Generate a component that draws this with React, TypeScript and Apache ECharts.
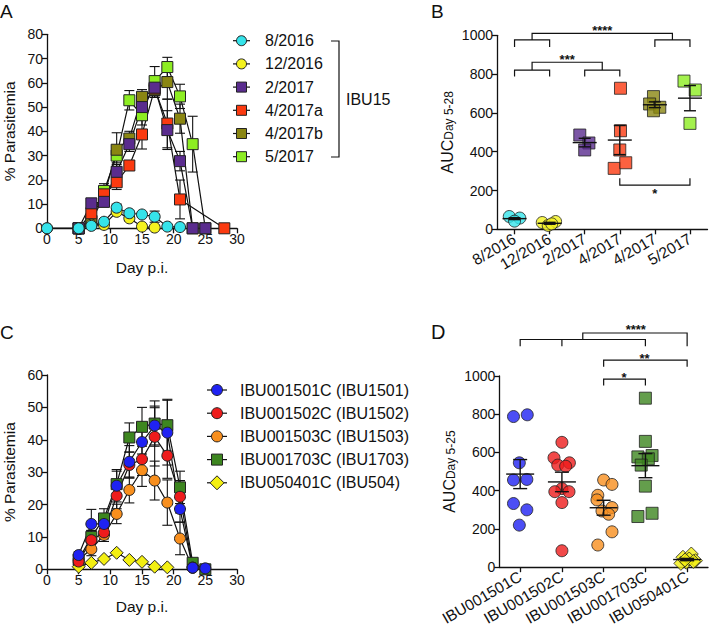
import React, { useEffect, useRef } from "react";
import * as echarts from "echarts";

const FONT = "'Liberation Sans', Arial, Helvetica, sans-serif";
const INK = "#111111";

// ---------- Panel A: % parasitemia, IBU15 isolates ----------
const aNames = ["8/2016", "12/2016", "2/2017", "4/2017a", "4/2017b", "5/2017"];
const aColors = ["#35e3ea", "#f4f21e", "#5a2c8e", "#fb3a10", "#8a8612", "#8ded22"];
const aSymbols = ["circle", "circle", "rect", "rect", "rect", "rect"];
const a1Days = [0, 5, 7, 9, 11, 13, 15, 17, 19, 21];
const a1Vals = [0, 0, 1.0, 2.7, 8.5, 6.2, 5.7, 4.8, 0.7, 0.5];
const a1Sem = [0, 0, 0.5, 0.8, 1.5, 1.2, 1.0, 2.3, 0.2, 0.2];
const a2Days = [0, 5, 7, 9, 11, 13, 15, 17];
const a2Vals = [0, 0, 1.5, 1.4, 6.8, 4.1, 0.7, 0.3];
const a2Sem = [0, 0, 0.5, 0.5, 1.0, 1.0, 0.3, 0.2];
const a3Days = [5, 7, 9, 11, 13, 15, 17, 19, 21, 23, 25];
const a3Vals = [0, 10.3, 10.9, 23.3, 34.7, 50, 58, 40.5, 27.7, 0, 0];
const a3Sem = [0, 1.5, 2, 3, 3, 4, 4, 8, 4, 0, 0];
const a4Days = [5, 7, 9, 11, 13, 15, 17, 19, 21, 28];
const a4Vals = [0, 6.2, 14, 19, 25.9, 38.7, 57.6, 43.2, 11.9, 0];
const a4Sem = [0, 1.5, 2, 3, 2, 6, 2, 10, 8, 0];
const a5Days = [5, 7, 9, 11, 13, 15, 17, 19, 21, 23];
const a5Vals = [0, 3, 13, 32.4, 37, 54.2, 57, 60.3, 45.2, 0];
const a5Sem = [0, 1, 2, 7, 3, 3, 3, 7, 6, 0];
const a6Days = [5, 7, 9, 11, 13, 15, 17, 19, 21, 23, 25];
const a6Vals = [0, 3, 15.4, 30, 52.8, 46.6, 60.7, 66.5, 54.4, 34.7, 0];
const a6Sem = [0, 1, 3, 3, 4, 4, 6, 4, 5, 11.5, 0];
const aDays = [a1Days, a2Days, a3Days, a4Days, a5Days, a6Days];
const aVals = [a1Vals, a2Vals, a3Vals, a4Vals, a5Vals, a6Vals];
const aSems = [a1Sem, a2Sem, a3Sem, a4Sem, a5Sem, a6Sem];

// ---------- Panel B: AUC day 5-28 ----------
const bCats = ["8/2016", "12/2016", "2/2017", "4/2017", "4/2017", "5/2017"];
const bVals = [
  [66, 58, 42],
  [35, 20, 40, 28],
  [486, 445, 409],
  [727, 508, 409, 314, 343],
  [684, 646, 629, 611],
  [764, 718, 546],
];
const bOffsets = [
  [-0.15, 0.15, 0.0],
  [-0.21, -0.04, 0.17, 0.06],
  [-0.14, 0.12, 0.0],
  [0.02, 0.02, 0.0, -0.16, 0.17],
  [-0.04, -0.15, 0.14, -0.04],
  [-0.17, 0.15, 0.0],
];
const bMean = [55, 31, 447, 460, 642, 676];
const bSem = [5, 5, 22, 75, 15, 65];
const bBrackets = [
  [0, 1, 976, 940, 940],
  [4, 5, 976, 940, 940],
  [0.5, 4.5, 1010, 976, 976],
  [0, 1, 821, 787, 787],
  [2, 3, 821, 787, 787],
  [0.5, 2.5, 861, 821, 821],
  [3, 5, 228, 263, 263],
];
const bStars = ["****", "***", "*"];
const bStarPos = [
  [2.5, 1024],
  [1.5, 873],
  [4, 184],
];

// ---------- Panel C: % parasitemia, clones ----------
const cNames = [
  "IBU001501C (IBU1501)",
  "IBU001502C (IBU1502)",
  "IBU001503C (IBU1503)",
  "IBU001703C (IBU1703)",
  "IBU050401C (IBU504)",
];
const cColors = ["#1f22f2", "#ee1c1c", "#f88f1e", "#3d861f", "#f3ef12"];
const cSymbols = ["circle", "circle", "circle", "rect", "diamond"];
const c1Days = [5, 7, 9, 11, 13, 15, 17, 19, 21, 23, 25];
const c1Vals = [4.4, 14.0, 14.0, 25.8, 33.2, 39.3, 44.4, 42.2, 18.6, 0.5, 0.3];
const c1Sem = [1, 4.5, 3, 5, 5, 6, 6, 10, 4, 0, 0];
const c2Days = [5, 7, 9, 11, 13, 15, 17, 19, 21, 23];
const c2Vals = [2.4, 9.0, 11.4, 22.7, 32.2, 34.0, 40.9, 35.1, 22.4, 0.5];
const c2Sem = [1, 3, 2, 4, 4, 5, 9, 7, 5, 0];
const c3Days = [5, 7, 9, 11, 13, 15, 17, 19, 21, 23];
const c3Vals = [3, 6.2, 10.6, 17.1, 24.5, 30.6, 27.4, 20.6, 9.5, 0.5];
const c3Sem = [1, 2, 2, 3, 4, 5, 6, 7, 5, 0];
const c4Days = [5, 7, 9, 11, 13, 15, 17, 19, 21, 23, 25];
const c4Vals = [3, 10, 15.7, 26.3, 40.7, 44.0, 45, 44.5, 25.3, 2, 0];
const c4Sem = [1, 2, 3, 4, 4.5, 6, 7, 8, 5, 1, 0];
const c5Days = [5, 7, 9, 11, 13, 15, 17, 19];
const c5Vals = [0.8, 2.0, 3.2, 5.1, 2.9, 2.3, 0.8, 0.6];
const c5Sem = [0, 0, 0, 0, 0, 0, 0, 0];
const cDays = [c1Days, c2Days, c3Days, c4Days, c5Days];
const cVals = [c1Vals, c2Vals, c3Vals, c4Vals, c5Vals];
const cSems = [c1Sem, c2Sem, c3Sem, c4Sem, c5Sem];

// ---------- Panel D: AUC day 5-25 ----------
const dCats = ["IBU001501C", "IBU001502C", "IBU001503C", "IBU001703C", "IBU050401C"];
const dVals = [
  [788, 797, 546, 456, 459, 333, 300, 220],
  [653, 572, 546, 534, 528, 411, 395, 395, 338, 86],
  [456, 433, 376, 352, 294, 312, 277, 185, 116],
  [884, 658, 577, 584, 567, 534, 424, 265, 282],
  [52, 69, 26, 20, 34, 43, 30, 38],
];
const dOffsets = [
  [-0.16, 0.17, -0.02, -0.16, 0.16, -0.16, 0.16, -0.02],
  [0, -0.19, 0.18, -0.1, 0.09, 0, -0.17, 0.17, 0, 0],
  [0, 0.2, -0.14, -0.16, -0.04, 0.2, 0.12, 0.2, -0.14],
  [0, 0, -0.18, 0.16, 0.07, -0.1, 0, -0.18, 0.16],
  [-0.1, 0.1, -0.02, -0.15, 0.2, 0.05, 0.15, -0.05],
];
const dMean = [487, 446, 311, 531, 40];
const dSem = [76, 51, 39, 63, 6];
const dBrackets = [
  [0, 3, 1191, 1156, 1156],
  [1, 1, 1191, 1156, 1156],
  [1.5, 4, 1225, 1191, 1156],
  [2, 4, 1083, 1048, 1048],
  [2, 3, 984, 950, 950],
];
const dStars = ["****", "**", "*"];
const dStarPos = [
  [2.77, 1245],
  [2.98, 1094],
  [2.49, 994],
];

const lineStyleBlack = { color: INK, width: 1.2 };
const axisLineS = { show: true, onZero: false, lineStyle: { color: INK, width: 1.3 } };
const axisTickS = { show: true, length: 5, lineStyle: { color: INK, width: 1.3 } };
const axisLabelS = {
  color: INK,
  fontSize: 14,
  fontFamily: FONT,
  margin: 4,
  formatter: (v: any) => String(v),
};
const catLabelS = { color: INK, fontSize: 15.5, fontFamily: FONT, rotate: 30, interval: 0, margin: 8 };
const nameStyle = { color: INK, fontSize: 15.5, fontFamily: FONT };

function errorRender(cap: number) {
  return (params: any, api: any) => {
    const x = api.value(0);
    const lo = api.value(1);
    const hi = api.value(2);
    const p1 = api.coord([x, hi]);
    const p2 = api.coord([x, lo]);
    const style = { stroke: INK, lineWidth: 1.1, fill: null };
    return {
      type: "group",
      children: [
        { type: "line", shape: { x1: p1[0], y1: p1[1], x2: p2[0], y2: p2[1] }, style },
        { type: "line", shape: { x1: p1[0] - cap, y1: p1[1], x2: p1[0] + cap, y2: p1[1] }, style },
        { type: "line", shape: { x1: p2[0] - cap, y1: p2[1], x2: p2[0] + cap, y2: p2[1] }, style },
      ],
    };
  };
}

function meanRender(half: number, cap: number) {
  return (params: any, api: any) => {
    const x = api.value(0);
    const m = api.value(1);
    const lo = api.value(2);
    const hi = api.value(3);
    const pm = api.coord([x, m]);
    const p1 = api.coord([x, hi]);
    const p2 = api.coord([x, lo]);
    const style = { stroke: INK, lineWidth: 1.4, fill: null };
    return {
      type: "group",
      children: [
        { type: "line", shape: { x1: pm[0] - half, y1: pm[1], x2: pm[0] + half, y2: pm[1] }, style },
        { type: "line", shape: { x1: p1[0], y1: p1[1], x2: p2[0], y2: p2[1] }, style },
        { type: "line", shape: { x1: p1[0] - cap, y1: p1[1], x2: p1[0] + cap, y2: p1[1] }, style },
        { type: "line", shape: { x1: p2[0] - cap, y1: p2[1], x2: p2[0] + cap, y2: p2[1] }, style },
      ],
    };
  };
}

function bracketRender(params: any, api: any) {
  const x1 = api.value(0);
  const x2 = api.value(1);
  const yt = api.value(2);
  const yb1 = api.value(3);
  const yb2 = api.value(4);
  const a = api.coord([x1, yb1]);
  const b = api.coord([x1, yt]);
  const c = api.coord([x2, yt]);
  const d = api.coord([x2, yb2]);
  return {
    type: "polyline",
    shape: { points: [a, b, c, d] },
    style: { stroke: INK, lineWidth: 1.2, fill: null },
  };
}

function starRender(labels: string[]) {
  return (params: any, api: any) => {
    const p = api.coord([api.value(0), api.value(1)]);
    return {
      type: "text",
      x: p[0],
      y: p[1],
      style: {
        text: labels[params.dataIndex],
        fill: INK,
        fontSize: 13,
        fontWeight: "bold",
        fontFamily: FONT,
        align: "center",
        verticalAlign: "middle",
      },
    };
  };
}

// Hand-drawn legend rows (line + marker + label), one graphic group per row
function legendRows(
  names: string[],
  colors: string[],
  symbols: string[],
  x1: number,
  x2: number,
  tx: number,
  y0: number,
  step: number,
  size: number
) {
  return names.map((name, i) => {
    const y = y0 + i * step;
    const cx = (x1 + x2) / 2;
    const mstyle = { fill: colors[i], stroke: "#222", lineWidth: 1 };
    let marker: any;
    if (symbols[i] === "circle") {
      marker = { type: "circle", shape: { cx, cy: y, r: size / 2 }, style: mstyle };
    } else if (symbols[i] === "rect") {
      marker = {
        type: "rect",
        shape: { x: cx - size / 2, y: y - size / 2, width: size, height: size },
        style: mstyle,
      };
    } else {
      const h = size / 2 + 1.5;
      marker = {
        type: "polygon",
        shape: { points: [[cx, y - h], [cx + h, y], [cx, y + h], [cx - h, y]] },
        style: mstyle,
      };
    }
    return {
      type: "group",
      children: [
        { type: "line", shape: { x1, y1: y, x2, y2: y }, style: { stroke: INK, lineWidth: 1.2 } },
        marker,
        {
          type: "text",
          x: tx,
          y,
          style: { text: name, fontSize: 16, fontFamily: FONT, fill: INK, verticalAlign: "middle" },
        },
      ],
    };
  });
}

function buildOption() {
  const series: any[] = [];

  // Panel A lines (drawn in reverse so earlier isolates sit on top)
  for (let k = aNames.length - 1; k >= 0; k--) {
    series.push({
      name: aNames[k],
      type: "line",
      xAxisIndex: 0,
      yAxisIndex: 0,
      data: aDays[k].map((d, i) => [d, aVals[k][i]]),
      symbol: aSymbols[k],
      symbolSize: 11,
      lineStyle: lineStyleBlack,
      itemStyle: { color: aColors[k], borderColor: "#222", borderWidth: 1 },
      z: 3,
    });
  }
  const aErr: number[][] = [];
  aDays.forEach((days, k) =>
    days.forEach((d, i) => {
      if (aSems[k][i] > 0) aErr.push([d, aVals[k][i] - aSems[k][i], aVals[k][i] + aSems[k][i]]);
    })
  );
  series.push({
    type: "custom",
    xAxisIndex: 0,
    yAxisIndex: 0,
    renderItem: errorRender(5),
    data: aErr,
    z: 2,
    silent: true,
  });

  // Panel B
  bVals.forEach((vals, k) => {
    series.push({
      name: "B-" + k,
      type: "scatter",
      xAxisIndex: 2,
      yAxisIndex: 1,
      data: vals.map((v, i) => [k + bOffsets[k][i], v]),
      symbol: aSymbols[k],
      symbolSize: 12,
      itemStyle: { color: aColors[k], borderColor: "#222", borderWidth: 1 },
      z: 3,
    });
  });
  series.push({
    type: "custom",
    xAxisIndex: 2,
    yAxisIndex: 1,
    renderItem: meanRender(12, 6),
    data: bMean.map((m, k) => [k, m, m - bSem[k], m + bSem[k]]),
    z: 4,
    silent: true,
  });
  series.push({
    type: "custom",
    xAxisIndex: 2,
    yAxisIndex: 1,
    renderItem: bracketRender,
    data: bBrackets,
    clip: false,
    z: 4,
    silent: true,
  });
  series.push({
    type: "custom",
    xAxisIndex: 2,
    yAxisIndex: 1,
    renderItem: starRender(bStars),
    data: bStarPos,
    clip: false,
    z: 4,
    silent: true,
  });

  // Panel C lines
  for (let k = cNames.length - 1; k >= 0; k--) {
    series.push({
      name: cNames[k],
      type: "line",
      xAxisIndex: 3,
      yAxisIndex: 2,
      data: cDays[k].map((d, i) => [d, cVals[k][i]]),
      symbol: cSymbols[k],
      symbolSize: cSymbols[k] === "diamond" ? 13 : 11,
      lineStyle: lineStyleBlack,
      itemStyle: { color: cColors[k], borderColor: "#222", borderWidth: 1 },
      z: 3,
    });
  }
  const cErr: number[][] = [];
  cDays.forEach((days, k) =>
    days.forEach((d, i) => {
      if (cSems[k][i] > 0) cErr.push([d, cVals[k][i] - cSems[k][i], cVals[k][i] + cSems[k][i]]);
    })
  );
  series.push({
    type: "custom",
    xAxisIndex: 3,
    yAxisIndex: 2,
    renderItem: errorRender(5),
    data: cErr,
    z: 2,
    silent: true,
  });

  // Panel D
  dVals.forEach((vals, k) => {
    series.push({
      name: "D-" + k,
      type: "scatter",
      xAxisIndex: 5,
      yAxisIndex: 3,
      data: vals.map((v, i) => [k + dOffsets[k][i], v]),
      symbol: cSymbols[k],
      symbolSize: cSymbols[k] === "diamond" ? 14 : 12,
      itemStyle: { color: cColors[k], borderColor: "#222", borderWidth: 1 },
      z: 3,
    });
  });
  series.push({
    type: "custom",
    xAxisIndex: 5,
    yAxisIndex: 3,
    renderItem: meanRender(14, 7),
    data: dMean.map((m, k) => [k, m, m - dSem[k], m + dSem[k]]),
    z: 4,
    silent: true,
  });
  series.push({
    type: "custom",
    xAxisIndex: 5,
    yAxisIndex: 3,
    renderItem: bracketRender,
    data: dBrackets,
    clip: false,
    z: 4,
    silent: true,
  });
  series.push({
    type: "custom",
    xAxisIndex: 5,
    yAxisIndex: 3,
    renderItem: starRender(dStars),
    data: dStarPos,
    clip: false,
    z: 4,
    silent: true,
  });

  const aucName = (sub: string) => ({
    name: "{a|AUC}{b|" + sub + "}",
    nameLocation: "middle",
    nameGap: 42,
    nameTextStyle: {
      color: INK,
      fontFamily: FONT,
      lineHeight: 20,
      rich: {
        a: { fontSize: 16, fontFamily: FONT, color: INK, verticalAlign: "top", lineHeight: 16 },
        b: { fontSize: 12, fontFamily: FONT, color: INK, verticalAlign: "bottom", lineHeight: 12 },
      },
    },
  });

  const valueY = (grid: number, max: number, interval: number) => ({
    type: "value",
    gridIndex: grid,
    min: 0,
    max,
    interval,
    splitLine: { show: false },
    axisLine: axisLineS,
    axisTick: axisTickS,
    axisLabel: axisLabelS,
  });

  return {
    animation: false,
    backgroundColor: "#ffffff",
    textStyle: { fontFamily: FONT },
    grid: [
      { left: 47, top: 34.3, width: 190, height: 194 },
      { left: 497, top: 35.3, width: 210.5, height: 194 },
      { left: 47, top: 375, width: 190, height: 194.3 },
      { left: 499.3, top: 376, width: 208.7, height: 192.3 },
    ],
    xAxis: [
      {
        type: "value",
        gridIndex: 0,
        min: 0,
        max: 30,
        interval: 5,
        splitLine: { show: false },
        axisLine: axisLineS,
        axisTick: axisTickS,
        axisLabel: axisLabelS,
        name: "Day p.i.",
        nameLocation: "middle",
        nameGap: 31,
        nameTextStyle: nameStyle,
      },
      {
        type: "category",
        gridIndex: 1,
        data: bCats,
        boundaryGap: true,
        axisLine: axisLineS,
        axisTick: { ...axisTickS, alignWithLabel: true },
        axisLabel: catLabelS,
      },
      { type: "value", gridIndex: 1, min: -0.5, max: 5.5, show: false },
      {
        type: "value",
        gridIndex: 2,
        min: 0,
        max: 30,
        interval: 5,
        splitLine: { show: false },
        axisLine: axisLineS,
        axisTick: axisTickS,
        axisLabel: axisLabelS,
        name: "Day p.i.",
        nameLocation: "middle",
        nameGap: 29,
        nameTextStyle: nameStyle,
      },
      {
        type: "category",
        gridIndex: 3,
        data: dCats,
        boundaryGap: true,
        axisLine: axisLineS,
        axisTick: { ...axisTickS, alignWithLabel: true },
        axisLabel: catLabelS,
      },
      { type: "value", gridIndex: 3, min: -0.5, max: 4.5, show: false },
    ],
    yAxis: [
      {
        ...valueY(0, 80, 10),
        name: "% Parasitemia",
        nameLocation: "middle",
        nameGap: 30,
        nameTextStyle: nameStyle,
      },
      { ...valueY(1, 1000, 200), ...aucName("Day 5-28") },
      {
        ...valueY(2, 60, 10),
        name: "% Parasitemia",
        nameLocation: "middle",
        nameGap: 30,
        nameTextStyle: nameStyle,
      },
      { ...valueY(3, 1000, 200), ...aucName("Day 5-25") },
    ],
    graphic: [
      { type: "text", left: 0, top: 2, style: { text: "A", fontSize: 19, fontFamily: FONT, fill: INK } },
      { type: "text", left: 431, top: 2, style: { text: "B", fontSize: 19, fontFamily: FONT, fill: INK } },
      { type: "text", left: 0, top: 323, style: { text: "C", fontSize: 19, fontFamily: FONT, fill: INK } },
      { type: "text", left: 431, top: 322, style: { text: "D", fontSize: 20, fontFamily: FONT, fill: INK } },
      ...legendRows(aNames, aColors, aSymbols, 233, 250, 265, 40.7, 23.2, 10),
      ...legendRows(cNames, cColors, cSymbols, 207, 227, 240, 390, 23.2, 11),
      {
        type: "polyline",
        shape: { points: [[331, 41], [339, 41], [339, 157], [331, 157]] },
        style: { stroke: INK, lineWidth: 1.2, fill: null },
      },
      {
        type: "text",
        x: 346,
        y: 99,
        style: { text: "IBU15", fontSize: 16, fontFamily: FONT, fill: INK, verticalAlign: "middle" },
      },
    ],
    series,
  };
}

export default function App() {
  const ref = useRef<HTMLDivElement>(null);
  useEffect(() => {
    document.body.style.margin = "0";
    const chart = echarts.init(ref.current as HTMLDivElement, null, { renderer: "svg" });
    chart.setOption(buildOption() as any);
    return () => chart.dispose();
  }, []);
  return <div ref={ref} style={{ width: 709, height: 628 }} />;
}
